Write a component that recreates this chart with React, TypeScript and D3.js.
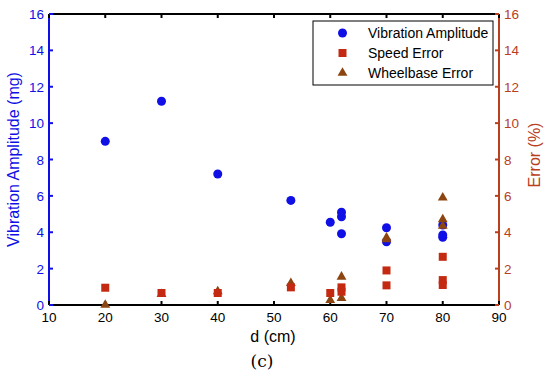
import React from "react";
import * as d3 from "d3";

// distance d (cm) vs vibration amplitude (mg)
const vibD = [20, 30, 40, 53, 60, 62, 62, 62, 70, 70, 80, 80, 80];
const vibAmp = [9.0, 11.2, 7.2, 5.75, 4.55, 5.1, 4.85, 3.92, 4.25, 3.48, 4.4, 3.85, 3.72];

// speed error (%)
const speedD = [20, 30, 40, 53, 60, 62, 62, 70, 70, 80, 80, 80];
const speedErr = [0.95, 0.66, 0.66, 0.97, 0.66, 0.97, 0.73, 1.9, 1.08, 2.65, 1.37, 1.1];

// wheelbase error (%)
const wheelD = [20, 30, 40, 53, 60, 62, 62, 70, 70, 80, 80, 80];
const wheelErr = [0.0, 0.6, 0.75, 1.2, 0.27, 1.55, 0.37, 3.7, 3.6, 5.9, 4.7, 4.35];

const xTicks = [10, 20, 30, 40, 50, 60, 70, 80, 90];
const yTicks = [0, 2, 4, 6, 8, 10, 12, 14, 16];
const legendLabels = ["Vibration Amplitude", "Speed Error", "Wheelbase Error"];

const BLUE = "#1010e6";
const RED = "#b8401e";
const SQ = "#c42a12";
const TRI = "#8c4410";
const FONT = "Liberation Sans, Arial, sans-serif";

export default function App() {
  const width = 550;
  const height = 375;
  const margin = { top: 14, left: 49, bottom: 70, right: 51 };
  const x0 = margin.left;
  const x1 = width - margin.right;
  const y0 = height - margin.bottom;
  const y1 = margin.top;

  const x = d3.scaleLinear().domain([10, 90]).range([x0, x1]);
  const yL = d3.scaleLinear().domain([0, 16]).range([y0, y1]);
  const yR = d3.scaleLinear().domain([0, 16]).range([y0, y1]);

  const tri = d3.symbol().type(d3.symbolTriangle).size(42)();
  const tk = 4;

  return (
    <svg
      width={width}
      height={height}
      style={{ position: "absolute", left: 0, top: 0, background: "#fff" }}
      fontFamily={FONT}
    >
      {/* frame */}
      <line x1={x0} x2={x1} y1={y1} y2={y1} stroke="#000" strokeWidth={2} />
      <line x1={x0} x2={x1} y1={y0} y2={y0} stroke="#000" strokeWidth={2} />
      <line x1={x0} x2={x0} y1={y1} y2={y0} stroke={BLUE} strokeWidth={2} />
      <line x1={x1} x2={x1} y1={y1} y2={y0} stroke={RED} strokeWidth={2} />

      {/* x ticks */}
      {xTicks.map((t) => (
        <g key={"x" + t}>
          <line x1={x(t)} x2={x(t)} y1={y0} y2={y0 - tk} stroke="#000" strokeWidth={2} />
          <line x1={x(t)} x2={x(t)} y1={y1} y2={y1 + tk} stroke="#000" strokeWidth={2} />
          <text x={x(t)} y={y0 + 17} textAnchor="middle" fontSize={13.5} fill="#000">
            {t}
          </text>
        </g>
      ))}

      {/* left ticks */}
      {yTicks.map((t) => (
        <g key={"yl" + t}>
          <line x1={x0} x2={x0 + tk} y1={yL(t)} y2={yL(t)} stroke={BLUE} strokeWidth={2} />
          <text x={x0 - 5} y={yL(t) + 5} textAnchor="end" fontSize={13.5} fill={BLUE}>
            {t}
          </text>
        </g>
      ))}

      {/* right ticks */}
      {yTicks.map((t) => (
        <g key={"yr" + t}>
          <line x1={x1} x2={x1 - tk} y1={yR(t)} y2={yR(t)} stroke={RED} strokeWidth={2} />
          <text x={x1 + 5} y={yR(t) + 5} textAnchor="start" fontSize={13.5} fill={RED}>
            {t}
          </text>
        </g>
      ))}

      {/* data */}
      {vibD.map((d, i) => (
        <circle key={"v" + i} cx={x(d)} cy={yL(vibAmp[i])} r={4.5} fill={BLUE} />
      ))}
      {wheelD.map((d, i) => (
        <path key={"w" + i} d={tri} transform={`translate(${x(d)},${yR(wheelErr[i])})`} fill={TRI} />
      ))}
      {speedD.map((d, i) => (
        <rect key={"s" + i} x={x(d) - 4} y={yR(speedErr[i]) - 4} width={8} height={8} fill={SQ} />
      ))}

      {/* axis labels */}
      <text
        transform={`translate(19,${(y0 + y1) / 2}) rotate(-90)`}
        textAnchor="middle"
        fontSize={16}
        fill={BLUE}
      >
        Vibration Amplitude (mg)
      </text>
      <text
        transform={`translate(540,155) rotate(-90)`}
        textAnchor="middle"
        fontSize={16}
        fill={RED}
      >
        Error (%)
      </text>
      <text x={273} y={y0 + 37} textAnchor="middle" fontSize={16} fill="#000">
        d (cm)
      </text>
      <text x={262} y={367} textAnchor="middle" fontSize={17} fill="#000" fontFamily="DejaVu Serif, serif">
        (c)
      </text>

      {/* legend */}
      <rect x={313} y={21} width={180} height={64} fill="#fff" stroke="#000" strokeWidth={1} />
      {legendLabels.map((l, i) => {
        const cy = 33 + i * 20;
        return (
          <g key={l}>
            {i === 0 && <circle cx={342.5} cy={cy} r={4.5} fill={BLUE} />}
            {i === 1 && <rect x={338.5} y={cy - 4} width={8} height={8} fill={SQ} />}
            {i === 2 && <path d={tri} transform={`translate(342.5,${cy})`} fill={TRI} />}
            <text x={368} y={cy + 5} fontSize={14} fill="#000">
              {l}
            </text>
          </g>
        );
      })}
    </svg>
  );
}
